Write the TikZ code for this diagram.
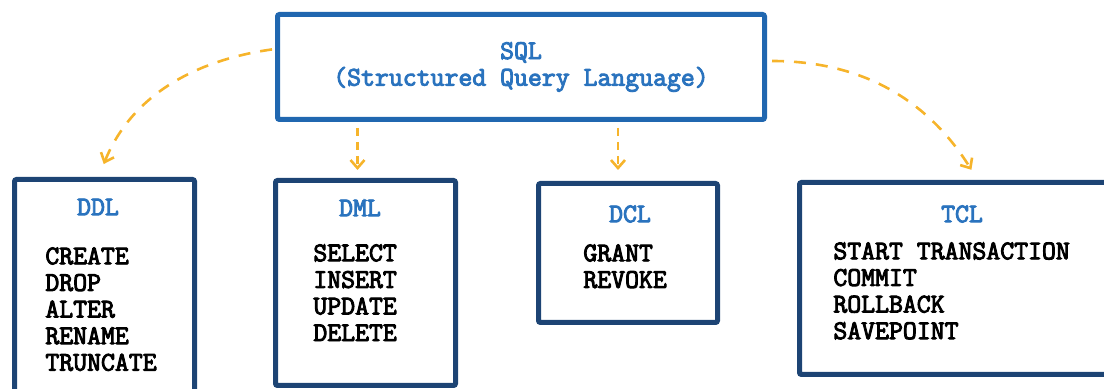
\documentclass[tikz,border=0pt]{standalone}
\usepackage{fontspec}
\setmonofont{Latin Modern Mono}[BoldFont={Latin Modern Mono}, BoldFeatures={FakeBold=3.5}]
\usepackage{tikz}
\usetikzlibrary{arrows.meta}
\definecolor{sqlblue}{HTML}{2067B0}
\definecolor{navy}{HTML}{1D4474}
\definecolor{headblue}{HTML}{2A73BE}
\definecolor{dashorange}{HTML}{F6B42B}

\begin{document}
\begin{tikzpicture}[
		x=0.5pt, y=-0.5pt,
		every node/.style={font=\ttfamily\bfseries\fontsize{13.5}{13.3}\selectfont},
		mainbox/.style={draw=sqlblue, line width=2.5pt, rounded corners=1pt,
			minimum width=243.5pt, minimum height=52.5pt, align=center, text=headblue},
		box/.style={draw=navy, line width=2.5pt, rounded corners=1pt},
		heading/.style={text=headblue, inner sep=0pt},
		items/.style={align=left, anchor=north west, inner sep=0pt},
		link/.style={draw=dashorange, line width=1.3pt, dash pattern=on 6pt off 5pt,
			-{Straight Barb[length=4pt,width=7pt]}}]
		\useasboundingbox (0,0) rectangle (1104,389);
		\clip (0,0) rectangle (1104,389);
		\node[mainbox] (sql) at (521,67) {SQL\\(Structured Query Language)};
		\node[box, minimum width=90pt, minimum height=109pt] (ddl) at (104.5,288.5) {};
		\node[box, minimum width=90pt, minimum height=102.5pt] (dml) at (365.5,283) {};
		\node[box, minimum width=89.5pt, minimum height=69.5pt] (dcl) at (628,253) {};
		\node[box, minimum width=156.25pt, minimum height=96pt] (tcl) at (955.75,278.5) {};
		
		\node[heading] (ddlhead) at (98,207) {DDL};
		\node[heading] (dmlhead) at (360,208) {DML};
		\node[heading] (dclhead) at (630,214) {DCL};
		\node[heading] (tclhead) at (962,214) {TCL};
		
		\node[items] (ddllist) at (45,247) {CREATE\\DROP\\ALTER\\RENAME\\TRUNCATE};
		\node[items] (dmllist) at (313,244) {SELECT\\INSERT\\UPDATE\\DELETE};
		\node[items] (dcllist) at (583,244) {GRANT\\REVOKE};
		\node[items] (tcllist) at (833,242) {START TRANSACTION\\COMMIT\\ROLLBACK\\SAVEPOINT};
		
		% dashed links from SQL to the four groups
		\draw[link, shorten <=1.5pt, shorten >=7pt] ([yshift=9pt]sql.west) to[out=188, in=68] ([xshift=-3pt]ddl.north);
		\draw[link, dash pattern=on 4pt off 3pt, shorten <=3pt, shorten >=4pt] ([xshift=-4pt]dml.north |- sql.south) -- ([xshift=-4pt]dml.north);
		\draw[link, dash pattern=on 4pt off 3pt, shorten <=3pt, shorten >=5.5pt] ([xshift=-5pt]dcl.north |- sql.south) -- ([xshift=-5pt]dcl.north);
		\draw[link, shorten <=2.5pt, shorten >=6pt] ([yshift=3pt]sql.east) to[out=0, in=122] ([xshift=11pt]tcl.north);
	\end{tikzpicture}
\end{document}
